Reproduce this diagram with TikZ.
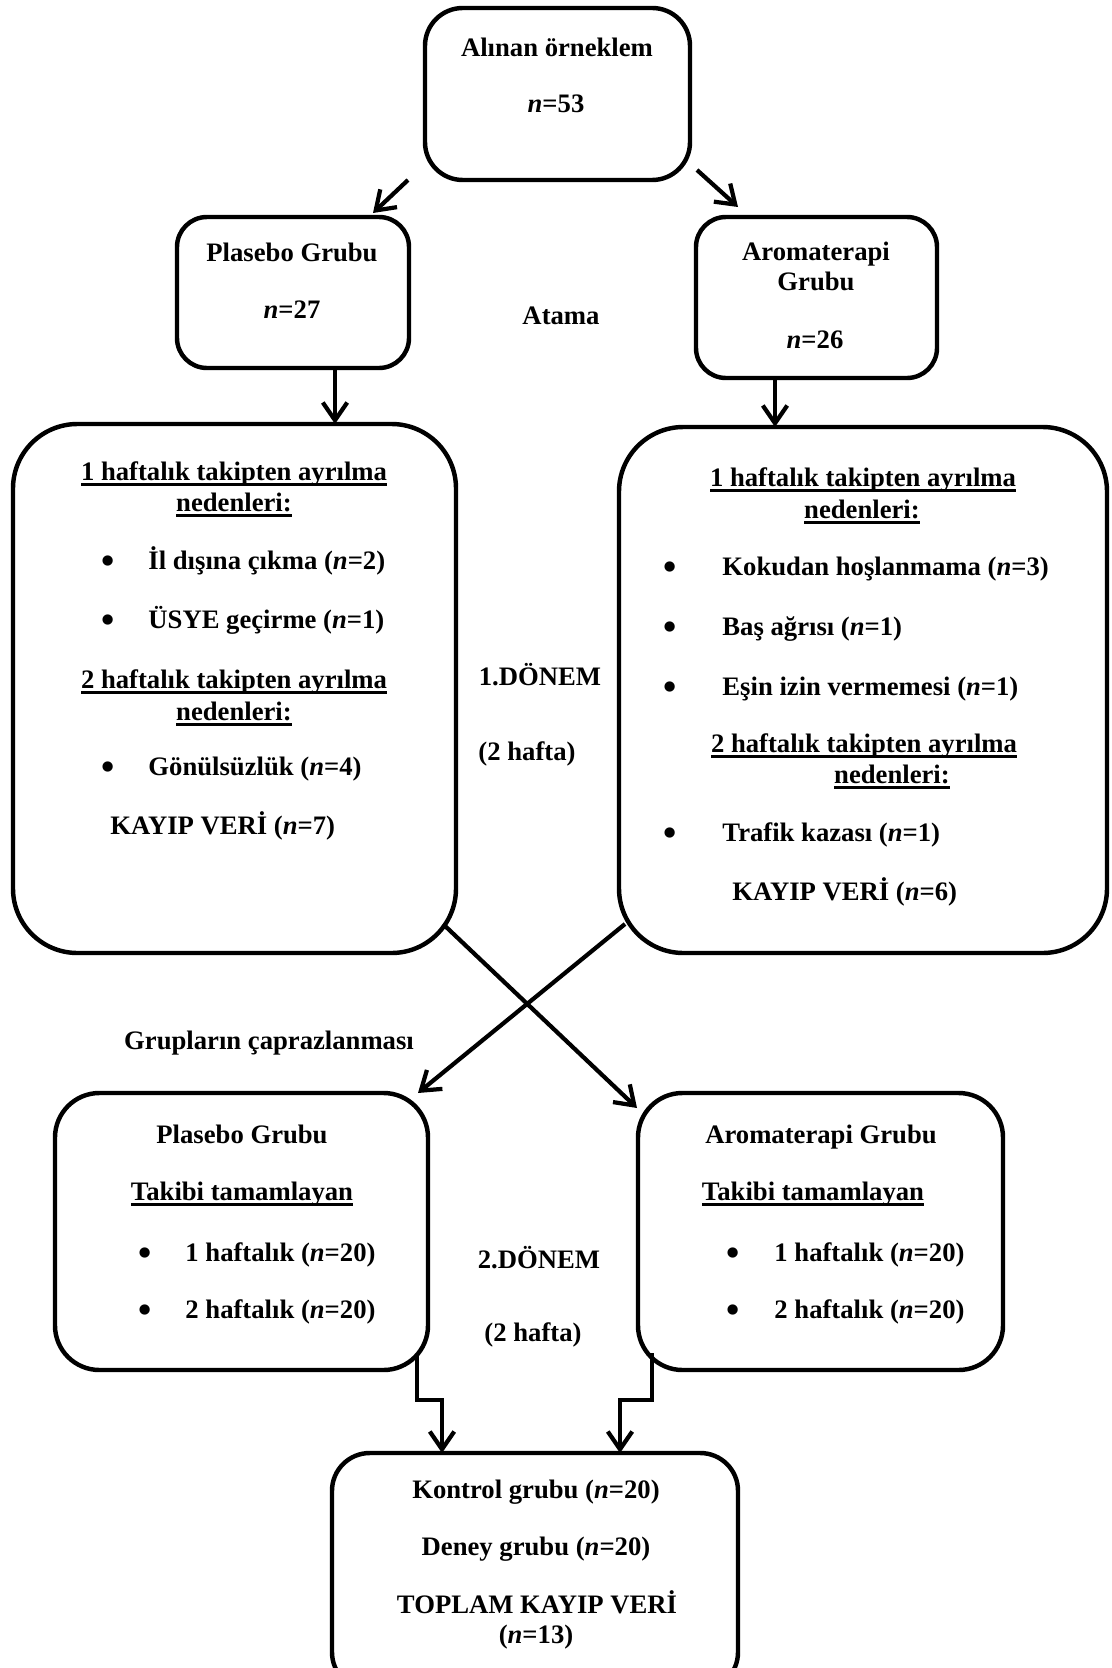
\documentclass[tikz,border=0pt]{standalone}
\usepackage{fontspec}
\setmainfont{Liberation Serif}
\usetikzlibrary{arrows.meta,fit}

% underline at a fixed depth, as the word processor draws it
\newcommand\undl[1]{\setbox0\hbox{#1}\rlap{\vrule width\wd0 height -1.1pt depth 2.1pt}\box0}
\newcommand\bigdot{{\fontsize{17pt}{17pt}\selectfont\textbullet}}

\tikzset{
	box/.style={draw, line width=2pt, inner sep=0pt, outer sep=0pt, rounded corners=#1},
	lbl/.style={font=\fontsize{12pt}{13.8pt}\selectfont\bfseries, inner sep=0pt, text height=8pt, text depth=0pt},
	arr/.style={line width=1.9pt, -{Straight Barb[length=8pt,width=11pt]}},
}

\begin{document}
\begin{tikzpicture}[x=0.45pt, y=-0.45pt]
		\useasboundingbox (0,0) rectangle (1111,1668);
		\clip (0,0) rectangle (1111,1668);
		% boxes
		\node[box=17pt, fit={(425,8) (690,180)}] (top) {};
		\node[box=13.5pt, fit={(177,217) (409,368)}] (plc) {};
		\node[box=13.5pt, fit={(696,217) (937,378)}] (aro) {};
		\node[box=29pt, fit={(13,424) (456,953)}] (plcout) {};
		\node[box=29pt, fit={(619,427) (1107,953)}] (aroout) {};
		\node[box=20pt, fit={(55,1093) (428,1370)}] (plc2) {};
		\node[box=20pt, fit={(638,1093) (1003,1370)}] (aro2) {};
		\node[box=17pt, fit={(332,1453) (738,1690)}] (total) {};
		% texts
		\node[lbl] (topa) at (557,48) {Alınan örneklem};
		\node[lbl] (topb) at (556,104) {\textit{n}=53};
		\node[lbl] (plca) at (292,253) {Plasebo Grubu};
		\node[lbl] (plcb) at (292,310) {\textit{n}=27};
		\node[lbl] (aroa) at (816,252) {Aromaterapi};
		\node[lbl] (arob) at (816,282) {Grubu};
		\node[lbl] (aroc) at (815,340) {\textit{n}=26};
		\node[lbl] (atama) at (561,316) {Atama};
		% left drop-out box
		\node[lbl] (plcouta) at (234,472) {\undl{1 haftalık takipten ayrılma}};
		\node[lbl] (plcoutb) at (234,503) {\undl{nedenleri:}};
		\node[lbl] (plcoutc) at (234,680) {\undl{2 haftalık takipten ayrılma}};
		\node[lbl] (plcoutd) at (234,712) {\undl{nedenleri:}};
		\foreach \y/\txt [count=\i] in {561/{İl dışına çıkma (\textit{n}=2)},620/{ÜSYE geçirme (\textit{n}=1)},767/{Gönülsüzlük (\textit{n}=4)}}{
			\node[lbl] (plcdot\i) at (108,\y+4) {\bigdot};
			\node[lbl, anchor=west] (plcitem\i) at (148,\y) {\txt};
		}
		\node[lbl, anchor=west] (plcloss) at (110,826) {KAYIP VERİ (\textit{n}=7)};
		% right drop-out box
		\node[lbl] (arouta) at (863,478) {\undl{1 haftalık takipten ayrılma}};
		\node[lbl] (aroutb) at (862,510) {\undl{nedenleri:}};
		\node[lbl] (aroutc) at (864,744) {\undl{2 haftalık takipten ayrılma}};
		\node[lbl] (aroutd) at (892,775) {\undl{nedenleri:}};
		\foreach \y/\txt [count=\i] in {567/{Kokudan hoşlanmama (\textit{n}=3)},627/{Baş ağrısı (\textit{n}=1)},687/{Eşin izin vermemesi (\textit{n}=1)},833/{Trafik kazası (\textit{n}=1)}}{
			\node[lbl] (arodot\i) at (670,\y+4) {\bigdot};
			\node[lbl, anchor=west] (aroitem\i) at (722,\y) {\txt};
		}
		\node[lbl, anchor=west] (aroloss) at (732,892) {KAYIP VERİ (\textit{n}=6)};
		\node[lbl] (per1) at (540,677) {1.DÖNEM};
		\node[lbl] (per1b) at (527,752) {(2 hafta)};
		\node[lbl] (cross) at (269,1041) {Grupların çaprazlanması};
		% second period boxes
		\node[lbl] (plc2a) at (242,1135) {Plasebo Grubu};
		\node[lbl] (plc2b) at (242,1192) {\undl{Takibi tamamlayan}};
		\node[lbl] (aro2a) at (821,1135) {Aromaterapi Grubu};
		\node[lbl] (aro2b) at (813,1192) {\undl{Takibi tamamlayan}};
		\foreach \y/\w [count=\i] in {1253/1,1310/2}{
			\node[lbl] (plc2dot\i) at (145,\y+4) {\bigdot};
			\node[lbl, anchor=west] (plc2item\i) at (185,\y) {\w{} haftalık (\textit{n}=20)};
			\node[lbl] (aro2dot\i) at (733,\y+4) {\bigdot};
			\node[lbl, anchor=west] (aro2item\i) at (774,\y) {\w{} haftalık (\textit{n}=20)};
		}
		\node[lbl] (per2) at (539,1260) {2.DÖNEM};
		\node[lbl] (per2b) at (533,1333) {(2 hafta)};
		% result box
		\node[lbl] (tota) at (536,1490) {Kontrol grubu (\textit{n}=20)};
		\node[lbl] (totb) at (536,1547) {Deney grubu (\textit{n}=20)};
		\node[lbl] (totc) at (537,1605) {TOPLAM KAYIP VERİ};
		\node[lbl] (totd) at (536,1635) {(\textit{n}=13)};
		% connectors
		\draw[arr] ([shift={(-17,0)}]top.south west) -- ([shift={(-36,-4)}]plc.north east);
		\draw[arr] ([shift={(7,-10)}]top.south east) -- ([shift={(42,-10)}]aro.north west);
		\draw[arr] ([shift={(42,0)}]plc.south) -- ([shift={(42,0)}]plc.south |- plcout.north);
		\draw[arr] ([shift={(-41.5,0)}]aro.south) -- ([shift={(-41.5,0)}]aro.south |- aroout.north);
		\draw[arr] ([shift={(-13,-29)}]plcout.south east) -- ([shift={(-1,15)}]aro2.north west);
		\draw[arr] ([shift={(6,-29)}]aroout.south west) -- ([shift={(-10,0)}]plc2.north east);
		\draw[arr] ([shift={(-11,-15)}]plc2.south east) -- ++(0,45) -| ([shift={(110,0)}]total.north west);
		\draw[arr] ([shift={(14,-17)}]aro2.south west) -- ++(0,47) -| ([shift={(-118,0)}]total.north east);
	\end{tikzpicture}
\end{document}
